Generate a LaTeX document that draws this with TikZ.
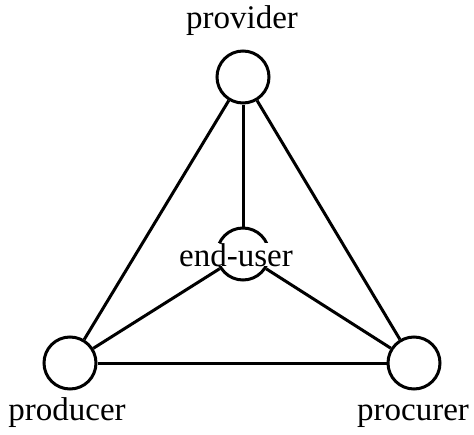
\documentclass[tikz,border=0pt]{standalone}
\usepackage{fontspec}
\setmainfont{Liberation Serif}
\begin{document}
\begin{tikzpicture}[x=1pt,y=-1pt,
  actor/.style={circle,draw,line width=3pt,minimum size=52pt,inner sep=0pt},
  link/.style={line width=3pt},
  role/.style={font=\fontsize{33}{40}\selectfont,inner sep=0pt,anchor=base},
  rolemid/.style={role,fill=white,text depth=0pt}]
\useasboundingbox (0,0) rectangle (474,434);
% the four parties
\node[actor] (provider) at (243,77) {};
\node[actor] (enduser)  at (243,254) {};
\node[actor] (producer) at (70,363) {};
\node[actor] (procurer) at (414,363) {};
% relations between them
\draw[link] (provider) -- (producer);
\draw[link] (provider) -- (procurer);
\draw[link] (provider) -- (enduser);
\draw[link] (enduser) -- (producer);
\draw[link] (enduser) -- (procurer);
\draw[link] (producer) -- (procurer);
% names
\node[role] (providerlabel) at (242,28) {provider};
\node[role] (producerlabel) at (67,420) {producer};
\node[role] (procurerlabel) at (413,420) {procurer};
\node[rolemid] (enduserlabel) at (236,266) {end-user};
\end{tikzpicture}
\end{document}
